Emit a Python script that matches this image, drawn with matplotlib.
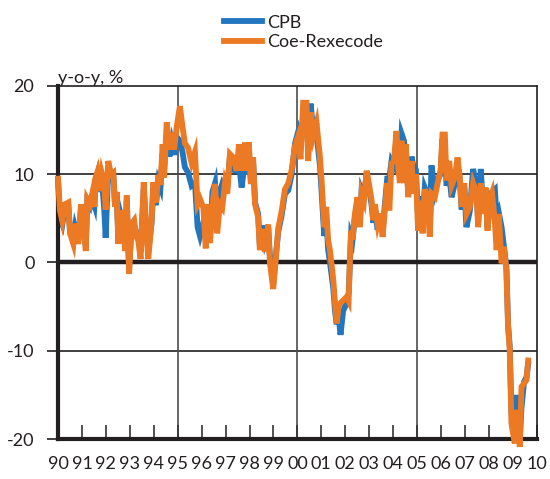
import matplotlib
matplotlib.use("Agg")
import matplotlib.pyplot as plt

plt.rcParams['font.family'] = ['Lato', 'DejaVu Sans']
plt.rcParams['axes.unicode_minus'] = False

# decimal years
dates = [
    1990.00, 1990.08, 1990.18, 1990.29, 1990.43, 1990.50, 1990.64, 1990.71, 1990.85, 1990.96,
    1991.06, 1991.16, 1991.22, 1991.34, 1991.43, 1991.52, 1991.57, 1991.64, 1991.72, 1991.82,
    1991.93, 1991.99, 1992.10, 1992.21, 1992.31, 1992.38, 1992.45, 1992.52, 1992.63, 1992.73,
    1992.80, 1992.87, 1992.97, 1993.07, 1993.18, 1993.27, 1993.35, 1993.45, 1993.58, 1993.68,
    1993.77, 1993.91, 1993.98, 1994.09, 1994.19, 1994.28, 1994.37, 1994.43, 1994.54, 1994.65,
    1994.75, 1994.85, 1994.96, 1995.09, 1995.20, 1995.30, 1995.43, 1995.58, 1995.72, 1995.83,
    1995.93, 1996.07, 1996.17, 1996.28, 1996.35, 1996.45, 1996.56, 1996.65, 1996.76, 1996.86,
    1996.97, 1997.07, 1997.18, 1997.32, 1997.46, 1997.56, 1997.67, 1997.81, 1997.92, 1997.97,
    1998.06, 1998.15, 1998.23, 1998.36, 1998.43, 1998.55, 1998.64, 1998.78, 1998.85, 1998.99,
    1999.10, 1999.20, 1999.34, 1999.48, 1999.62, 1999.76, 1999.90, 2000.03, 2000.13, 2000.24,
    2000.38, 2000.45, 2000.55, 2000.66, 2000.80, 2000.94, 2001.01, 2001.12, 2001.20, 2001.28,
    2001.36, 2001.50, 2001.57, 2001.64, 2001.72, 2001.80, 2001.91, 2002.05, 2002.14, 2002.20,
    2002.24, 2002.30, 2002.40, 2002.51, 2002.61, 2002.68, 2002.78, 2002.89, 2002.99, 2003.10,
    2003.17, 2003.24, 2003.35, 2003.44, 2003.56, 2003.65, 2003.75, 2003.84, 2003.93, 2004.03,
    2004.14, 2004.21, 2004.28, 2004.35, 2004.45, 2004.53, 2004.63, 2004.77, 2004.84, 2004.95,
    2005.04, 2005.14, 2005.23, 2005.32, 2005.42, 2005.53, 2005.60, 2005.74, 2005.88, 2005.98,
    2006.06, 2006.16, 2006.23, 2006.34, 2006.44, 2006.58, 2006.69, 2006.78, 2006.86, 2006.97,
    2007.06, 2007.20, 2007.34, 2007.48, 2007.55, 2007.66, 2007.76, 2007.86, 2007.94, 2008.04,
    2008.13, 2008.25, 2008.32, 2008.41, 2008.53, 2008.62, 2008.73, 2008.80, 2008.87, 2008.94,
    2009.01, 2009.08, 2009.15, 2009.22, 2009.29, 2009.36, 2009.47, 2009.57, 2009.64,
]

cpb = [
    9.3, 5.0, 4.3, 6.2, 6.5, 3.6, 2.6, 4.0, 2.5, 6.2,
    4.8, 1.8, 6.8, 6.3, 7.3, 6.5, 9.0, 9.8, 8.0, 9.8,
    6.0, 2.8, 10.8, 9.6, 9.8, 6.6, 7.6, 2.6, 5.3, 4.2,
    1.9, 7.0, -0.6, 4.0, 4.2, 3.3, 3.0, 1.2, 8.3, 3.8,
    1.2, 4.5, 8.5, 6.5, 9.2, 8.5, 12.3, 10.5, 14.5, 12.0,
    13.6, 12.2, 14.2, 13.8, 12.5, 10.8, 10.2, 8.7, 9.0, 4.0,
    3.0, 4.5, 2.8, 6.5, 3.0, 8.0, 9.0, 5.0, 8.0, 8.9,
    8.3, 8.5, 12.0, 10.5, 10.4, 11.2, 8.5, 11.5, 10.0, 12.8,
    8.9, 11.5, 6.8, 5.5, 2.0, 4.2, 2.5, 4.0, 0.8, -2.5,
    0.8, 3.5, 5.3, 7.8, 8.2, 10.0, 13.5, 14.8, 13.5, 16.0,
    15.5, 13.0, 18.0, 15.0, 14.5, 11.0, 8.0, 3.0, 5.5, 1.5,
    0.0, -3.0, -5.5, -7.0, -6.0, -8.2, -5.5, -4.6, -3.5, 0.5,
    3.0, 2.5, 5.0, 7.0, 4.5, 8.2, 7.5, 10.0, 8.5, 6.5,
    4.5, 6.0, 3.7, 5.5, 3.5, 6.5, 9.5, 9.5, 11.5, 11.0,
    14.0, 11.5, 10.5, 14.6, 13.8, 12.0, 8.0, 12.0, 11.0, 10.5,
    5.0, 7.5, 4.5, 8.5, 7.8, 4.0, 11.0, 8.0, 9.5, 10.0,
    14.0, 12.0, 8.7, 10.0, 7.4, 9.0, 11.0, 9.5, 6.0, 8.5,
    4.0, 5.8, 10.6, 8.5, 4.5, 10.6, 6.0, 8.3, 4.0, 7.0,
    8.0, 8.3, 5.0, 5.7, 4.0, 2.0, -0.5, -7.0, -9.5, -17.0,
    -18.5, -19.5, -15.0, -18.0, -20.0, -16.5, -13.5, -13.0, -11.5,
]

coe_rexecode = [
    9.5, 5.9, 4.7, 6.6, 6.8, 3.3, 2.1, 4.4, 2.1, 6.6,
    4.5, 1.3, 7.2, 6.6, 7.8, 6.3, 9.6, 10.2, 8.1, 10.2,
    9.0, 6.0, 11.5, 10.0, 10.2, 6.3, 8.0, 2.1, 5.9, 4.7,
    1.3, 7.6, -1.3, 4.4, 4.8, 2.9, 2.5, 0.4, 9.1, 4.1,
    0.4, 4.8, 9.1, 6.8, 9.9, 8.8, 13.4, 9.6, 15.9, 12.8,
    14.7, 12.8, 15.4, 17.7, 15.4, 13.5, 13.0, 11.3, 12.5, 6.6,
    7.2, 6.2, 1.6, 6.6, 2.2, 6.6, 8.9, 3.3, 6.6, 6.2,
    8.9, 7.8, 12.3, 11.9, 10.4, 13.4, 10.4, 13.6, 10.4, 13.6,
    8.9, 11.9, 6.6, 5.1, 1.4, 3.8, 1.2, 4.3, 0.0, -3.0,
    0.5, 3.9, 5.8, 8.3, 9.0, 10.5, 13.2, 14.3, 11.7, 18.1,
    18.1, 11.5, 17.0, 14.3, 15.8, 12.0, 9.3, 4.0, 6.3, 2.6,
    1.4, -2.0, -4.6, -6.9, -5.0, -4.6, -4.3, -3.9, -4.4, 1.0,
    3.6, 2.6, 5.5, 7.4, 4.0, 7.8, 7.0, 10.4, 8.9, 7.0,
    4.8, 6.6, 4.4, 5.5, 2.9, 5.9, 9.0, 5.9, 11.2, 11.5,
    14.9, 10.8, 9.0, 13.8, 9.0, 13.4, 7.4, 11.5, 7.8, 10.0,
    3.6, 7.0, 3.3, 8.3, 7.4, 2.9, 7.8, 7.4, 9.3, 10.4,
    14.5, 14.5, 9.3, 11.5, 8.7, 9.7, 11.9, 9.7, 6.3, 9.0,
    5.5, 6.3, 9.0, 7.9, 4.0, 9.0, 5.5, 8.5, 3.6, 7.2,
    7.9, 4.5, 1.4, 5.5, -0.1, 1.8, -0.9, -7.3, -9.9, -18.2,
    -19.4, -20.5, -16.7, -18.4, -20.9, -14.1, -13.7, -13.3, -11.1,
]

years = list(range(1990, 2011))
year_labels = [f"{y % 100:02d}" for y in years]
y_ticks = [-20, -10, 0, 10, 20]

blue = '#2176BF'
orange = '#EC7A24'
dark = '#231F20'

fig = plt.figure(figsize=(5.5, 4.79), dpi=100)
ax = fig.add_axes([0.1055, 0.0835, 0.8705, 0.737])

# grid lines
for yv in (10, -10):
    ax.axhline(yv, color=dark, lw=1.2, zorder=1)
for xv in (1995, 2000, 2005):
    ax.axvline(xv, color='#4d4d4d', lw=1.2, zorder=1)
ax.axhline(0, color=dark, lw=3.2, zorder=1)

ax.plot(dates, cpb, color=blue, lw=4.2, solid_joinstyle='miter', label='CPB',
        zorder=2, clip_on=False)
ax.plot(dates, coe_rexecode, color=orange, lw=4.2, solid_joinstyle='miter',
        label='Coe-Rexecode', zorder=3, clip_on=False)

ax.set_xlim(1990, 2010)
ax.set_ylim(-20, 20)

ax.set_xticks(years)
ax.set_xticklabels(year_labels)
ax.set_yticks(y_ticks)
ax.tick_params(axis='x', direction='in', length=10, width=1.2, color='#333333',
               pad=12, labelsize=13, labelcolor=dark)
ax.tick_params(axis='y', direction='out', length=8, width=1.2, color=dark,
               pad=9, labelsize=13, labelcolor=dark)

for side in ('left', 'bottom'):
    ax.spines[side].set_linewidth(3.0)
    ax.spines[side].set_color(dark)
for side in ('top', 'right'):
    ax.spines[side].set_linewidth(1.2)
    ax.spines[side].set_color(dark)

ax.text(0.0, 1.008, 'y-o-y, %', transform=ax.transAxes, ha='left', va='baseline',
        fontsize=13, color=dark)

fig.legend(loc='upper left', bbox_to_anchor=(0.378, 1.003), frameon=False,
           fontsize=13, handlelength=2.1, handletextpad=0.3, labelspacing=0.2,
           labelcolor=dark)

fig.savefig('out.png', dpi=100)
